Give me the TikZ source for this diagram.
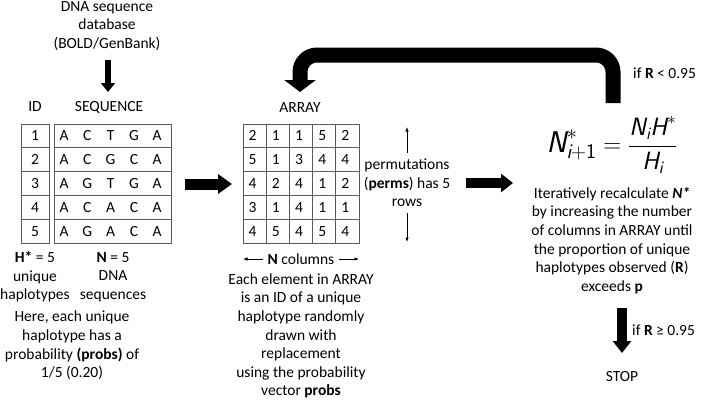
\documentclass[tikz,border=0pt]{standalone}
\usepackage{amsmath}
\usepackage{fontspec}
\setmainfont{Carlito}
\usetikzlibrary{arrows.meta}
\newcommand\sfi[1]{\textsf{\itshape #1}}
\begin{document}
\begin{tikzpicture}[x=1pt,y=-1pt,
  txt/.style={font=\fontsize{15.5}{18.6}\selectfont, inner sep=0pt, align=center},
  cell/.style={font=\fontsize{15.5}{18.6}\selectfont, inner sep=0pt},
  gridline/.style={draw=black!65, line width=0.8pt},
  thin/.style={line width=0.7pt, -{Latex[length=4.5pt,width=3.5pt]}},
  fatarrow/.style={line width=11pt, -{Triangle[width=19pt,length=14pt]}},
  fatarrowb/.style={line width=10pt, -{Triangle[width=18pt,length=12pt]}},
  smallfat/.style={line width=6pt, -{Triangle[width=14pt,length=9pt]}},
  loopback/.style={line width=15pt, rounded corners=17pt, -{Triangle[width=31pt,length=12pt]}}
]
\useasboundingbox (0,0) rectangle (703,400);

% source
\node[txt] (db) at (107,26) {DNA sequence\\database\\(BOLD/GenBank)};
\coordinate (dbA) at (108,60);
\coordinate (dbB) at (108,92);
\draw[smallfat] (dbA) -- (dbB);

\node[txt] (idlab) at (35,107) {ID};
\node[txt] (seqlab) at (109,107) {SEQUENCE};
\node[txt] (arrlab) at (300,108) {ARRAY};

% ID column
\draw[gridline] (21,124) rectangle (49,243);
\draw[gridline] (54,124) rectangle (171,243);
\draw[gridline] (243,124) rectangle (359,243);
\foreach \k in {1,...,4} {
  \draw[gridline] (21,{124+23.8*\k}) -- (49,{124+23.8*\k});
  \draw[gridline] (54,{124+23.8*\k}) -- (171,{124+23.8*\k});
  \draw[gridline] (243,{124+23.8*\k}) -- (359,{124+23.8*\k});
  \draw[gridline] ({243+23.2*\k},124) -- ({243+23.2*\k},243);
}
\foreach \r in {1,...,5} {
  \node[cell] (id-\r) at (35,{124+23.8*(\r-0.5)}) {\r};
}
\foreach \row [count=\r] in {{A,C,T,G,A},{A,C,G,C,A},{A,G,T,G,A},{A,C,A,C,A},{A,G,A,C,A}} {
  \foreach \ch [count=\c] in \row {
    \node[cell] (s-\r-\c) at ({40.7+23.3*\c},{124+23.8*(\r-0.5)}) {\ch};
  }
}
\foreach \row [count=\r] in {{2,1,1,5,2},{5,1,3,4,4},{4,2,4,1,2},{3,1,4,1,1},{4,5,4,5,4}} {
  \foreach \ch [count=\c] in \row {
    \node[cell] (a-\r-\c) at ({241+23.2*(\c-0.5)},{124+23.8*(\r-0.5)}) {\ch};
  }
}

% captions under tables
\node[txt] (hstar) at (35,277) {\textbf{H*} = 5\\unique\\haplotypes};
\node[txt] (nseq) at (113,277) {\textbf{N} = 5\\DNA\\sequences};
\node[txt] (here) at (72,345.5) {Here, each unique\\haplotype has a\\probability \textbf{(probs)} of\\1/5 (0.20)};

\node[txt] (ncols) at (301,259) {\textbf{N} columns};
\coordinate (ncl1) at (263,259);
\coordinate (ncl2) at (243,259);
\coordinate (ncr1) at (339,259);
\coordinate (ncr2) at (359,259);
\draw[thin] (ncl1) -- (ncl2);
\draw[thin] (ncr1) -- (ncr2);

\node[txt] (each) at (301,336) {Each element in ARRAY\\is an ID of a unique\\haplotype randomly\\drawn with\\replacement\\using the probability\\vector \textbf{probs}};

% permutations
\node[txt] (perm) at (407,183) {permutations\\(\textbf{perms}) has 5\\rows};
\coordinate (pu1) at (407,153);
\coordinate (pu2) at (407,127);
\coordinate (pd1) at (407,213);
\coordinate (pd2) at (407,242);
\draw[thin] (pu1) -- (pu2);
\draw[thin] (pd1) -- (pd2);

% fat arrows
\coordinate (f1a) at (185,184);
\coordinate (f1b) at (232,184);
\draw[fatarrow] (f1a) -- (f1b);
\coordinate (f2a) at (466,183);
\coordinate (f2b) at (513,183);
\draw[fatarrowb] (f2a) -- (f2b);

% formula
\node[inner sep=0pt, font=\fontsize{30}{36}\selectfont] (formula) at (612,145)
  {$\sfi{N}^{*}_{\sfi{i}+\textsf{1}} = \text{\fontsize{25}{30}\selectfont$\displaystyle\frac{\sfi{N}_{\sfi{i}}\sfi{H}^{*}}{\sfi{H}_{\sfi{i}}}$}$};

\node[txt] (iter) at (612,240.5) {Iteratively recalculate \textbf{\textit{N*}}\\by increasing the number\\of columns in ARRAY until\\the proportion of unique\\haplotypes observed (\textbf{R})\\exceeds \textbf{p}};

% loop back
\coordinate (lb1) at (613,103);
\coordinate (lb2) at (613,55);
\coordinate (lb3) at (300,55);
\coordinate (lb4) at (300,92);
\draw[loopback] (lb1) -- (lb2) -- (lb3) -- (lb4);
\node[txt, anchor=west] (iflt) at (633,73) {if \textbf{R} < 0.95};

% stop
\coordinate (sa) at (622,308);
\coordinate (sb) at (622,353);
\draw[fatarrowb] (sa) -- (sb);
\node[txt, anchor=west] (ifge) at (632,330) {if \textbf{R} ≥ 0.95};
\node[txt] (stop) at (622,377) {STOP};
\end{tikzpicture}
\end{document}
